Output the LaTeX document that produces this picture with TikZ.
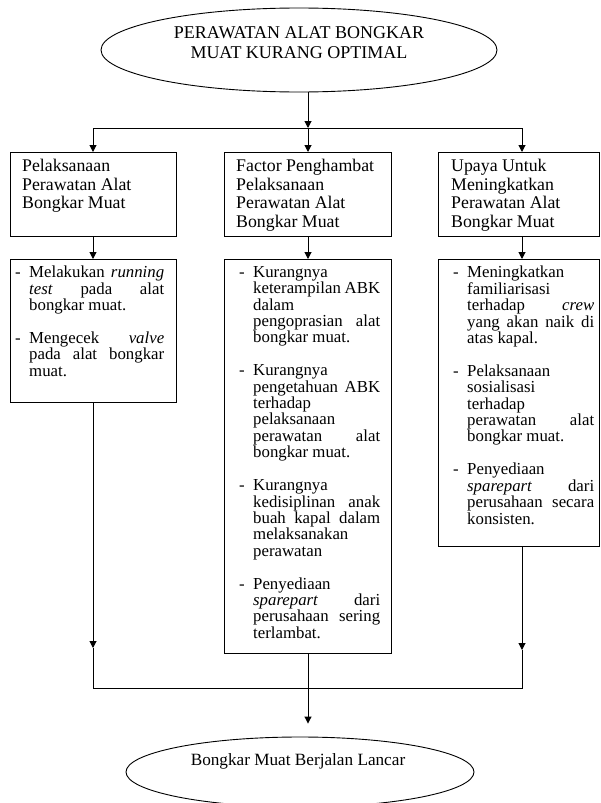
\documentclass[tikz,border=0pt]{standalone}
\usepackage{fontspec}
\setmainfont{Liberation Serif}
\usetikzlibrary{arrows.meta, shapes.geometric, positioning}

\newcommand{\rata}[2]{\makebox[#1][s]{#2}}
\newcommand{\strip}{\makebox[14pt][l]{-}}
\newcommand{\lanjut}{\hspace*{14pt}}

\tikzset{
  kotak/.style={draw, line width=1.1pt, anchor=north west, inner sep=0pt},
  judul/.style={anchor=north west, inner sep=0pt, align=left, font=\fontsize{17.8}{18.5}\selectfont},
  isi/.style={anchor=north west, inner sep=0pt, align=left, font=\fontsize{16.8}{16.4}\selectfont},
  elips/.style={draw, ellipse, line width=0.9pt, inner sep=0pt},
  panah/.style={line width=1pt, -{Triangle[length=7pt,width=7pt]}},
  garis/.style={line width=1pt},
}

\begin{document}
\begin{tikzpicture}[x=1pt,y=-1pt]
  \useasboundingbox (0,0) rectangle (600,803);

  \node[elips, minimum width=396, minimum height=84] (masalah) at (299,50) {};
  \node[font=\fontsize{18}{20}\selectfont, align=center] (masalahTeks) at (299,43)
    {PERAWATAN ALAT BONGKAR\\MUAT KURANG OPTIMAL};

  \node[kotak, minimum width=166, minimum height=84] (kiri1) at (10,152) {};
  \node[kotak, minimum width=167, minimum height=84] (tengah1) at (224,152) {};
  \node[kotak, minimum width=161, minimum height=84] (kanan1) at (438,152) {};
  \node[judul] (kiri1Teks) at (22,159) {Pelaksanaan\\Perawatan Alat\\Bongkar Muat};
  \node[judul] (tengah1Teks) at (236,159) {Factor Penghambat\\Pelaksanaan\\Perawatan Alat\\Bongkar Muat};
  \node[judul] (kanan1Teks) at (451,159) {Upaya Untuk\\Meningkatkan\\Perawatan Alat\\Bongkar Muat};

  \node[kotak, minimum width=166, minimum height=143] (kiri2) at (10,259) {};
  \node[kotak, minimum width=167, minimum height=394] (tengah2) at (224,259) {};
  \node[kotak, minimum width=161, minimum height=287] (kanan2) at (438,259) {};

  \node[isi] (kiri2Teks) at (15,266) {%
    \strip\rata{135pt}{Melakukan \textit{running}}\\
    \lanjut\rata{135pt}{\textit{test} pada alat}\\
    \lanjut bongkar muat.\\[16.5pt]
    \strip\rata{135pt}{Mengecek \textit{valve}}\\
    \lanjut\rata{135pt}{pada alat bongkar}\\
    \lanjut muat.};
  \node[isi] (tengah2Teks) at (239,266) {%
    \strip Kurangnya\\
    \lanjut\rata{127pt}{keterampilan ABK}\\
    \lanjut dalam\\
    \lanjut\rata{127pt}{pengoprasian alat}\\
    \lanjut bongkar muat.\\[16.5pt]
    \strip Kurangnya\\
    \lanjut\rata{127pt}{pengetahuan ABK}\\
    \lanjut terhadap\\
    \lanjut pelaksanaan\\
    \lanjut\rata{127pt}{perawatan alat}\\
    \lanjut bongkar muat.\\[16.5pt]
    \strip Kurangnya\\
    \lanjut\rata{127pt}{kedisiplinan anak}\\
    \lanjut\rata{127pt}{buah kapal dalam}\\
    \lanjut melaksanakan\\
    \lanjut perawatan\\[16.5pt]
    \strip Penyediaan\\
    \lanjut\rata{127pt}{\textit{sparepart} dari}\\
    \lanjut\rata{127pt}{perusahaan sering}\\
    \lanjut terlambat.};
  \node[isi] (kanan2Teks) at (453,266) {%
    \strip Meningkatkan\\
    \lanjut familiarisasi\\
    \lanjut\rata{127pt}{terhadap \textit{crew}}\\
    \lanjut\rata{127pt}{yang akan naik di}\\
    \lanjut atas kapal.\\[16.5pt]
    \strip Pelaksanaan\\
    \lanjut sosialisasi\\
    \lanjut terhadap\\
    \lanjut\rata{127pt}{perawatan alat}\\
    \lanjut bongkar muat.\\[16.5pt]
    \strip Penyediaan\\
    \lanjut\rata{127pt}{\textit{sparepart} dari}\\
    \lanjut\rata{127pt}{perusahaan secara}\\
    \lanjut konsisten.};

  \node[elips, minimum width=348, minimum height=70] (hasil) at (300,772) {};
  \node[font=\fontsize{17.2}{18}\selectfont] (hasilTeks) at (298,761) {Bongkar Muat Berjalan Lancar};

  \coordinate (cabangKiri) at (93,128);
  \coordinate (cabang) at (308,128);
  \coordinate (cabangKanan) at (522,128);
  \coordinate (ujungKiri) at (93,648);
  \coordinate (ujungKanan) at (522,650);
  \coordinate (gabungKiri) at (93,688);
  \coordinate (gabung) at (308,688);
  \coordinate (gabungKanan) at (522,688);

  \draw[panah] (masalah.south -| cabang) -- (cabang);
  \draw[garis] (cabangKiri) -- (cabangKanan);
  \draw[panah] (cabangKiri) -- (cabangKiri |- kiri1.north);
  \draw[panah] (cabang) -- (cabang |- tengah1.north);
  \draw[panah] (cabangKanan) -- (cabangKanan |- kanan1.north);

  \draw[panah] (cabangKiri |- kiri1.south) -- (cabangKiri |- kiri2.north);
  \draw[panah] (cabang |- tengah1.south) -- (cabang |- tengah2.north);
  \draw[panah] (cabangKanan |- kanan1.south) -- (cabangKanan |- kanan2.north);

  \draw[panah] (gabungKiri |- kiri2.south) -- (ujungKiri);
  \draw[panah] (gabungKanan |- kanan2.south) -- (ujungKanan);
  \draw[garis] (ujungKiri) -- (gabungKiri) -- (gabungKanan) -- (ujungKanan);
  \draw[panah, shorten >=13pt] (gabung |- tengah2.south) -- (gabung |- hasil.north);
\end{tikzpicture}
\end{document}
